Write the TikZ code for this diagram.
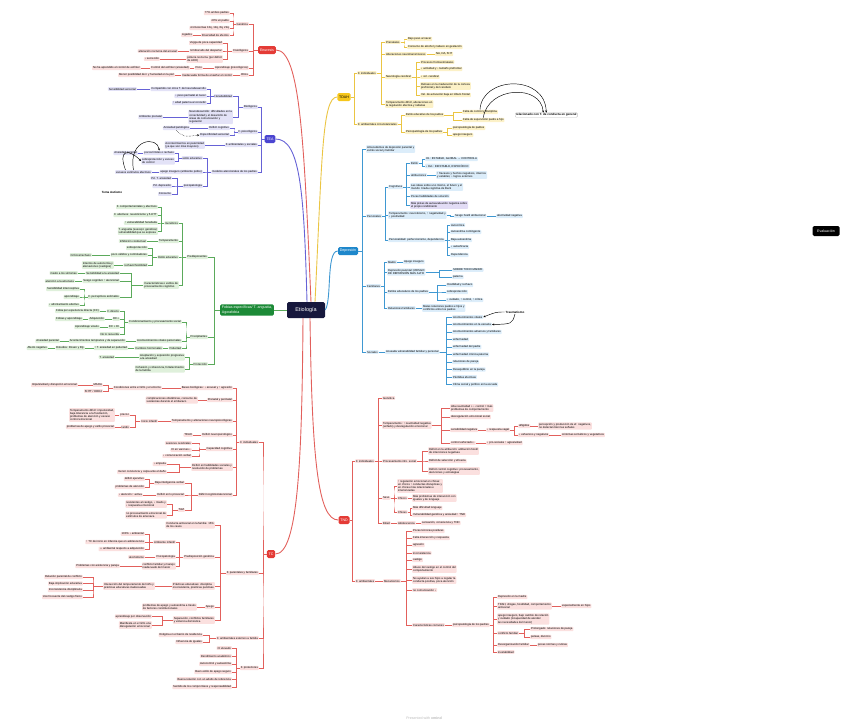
\documentclass[tikz,border=0pt]{standalone}
\usepackage{fontspec}
\setmainfont{Liberation Sans}
\usetikzlibrary{arrows.meta, calc}
\definecolor{etiobg}{HTML}{17183D}
\definecolor{redmain}{HTML}{E43B36}
\definecolor{redline}{HTML}{E2605C}
\definecolor{redleaf}{HTML}{FBE0DF}
\definecolor{purmain}{HTML}{4B45D1}
\definecolor{purline}{HTML}{6662D6}
\definecolor{purleaf}{HTML}{E3E2F7}
\definecolor{grnmain}{HTML}{1C8A37}
\definecolor{grnline}{HTML}{5BAA5B}
\definecolor{grnleaf}{HTML}{DFF0DB}
\definecolor{yelmain}{HTML}{F6C61B}
\definecolor{yelline}{HTML}{EBC543}
\definecolor{yelleaf}{HTML}{FCF1C7}
\definecolor{blumain}{HTML}{1E87CB}
\definecolor{bluline}{HTML}{3F98D2}
\definecolor{bluleaf}{HTML}{DCEDFA}
\definecolor{lilacleaf}{HTML}{E2DCF5}

\begin{document}
\begin{tikzpicture}[x=1pt, y=-1pt,
    leaf/.style={rounded corners=0.8pt, inner sep=0.9pt, align=left,
                 font=\fontsize{2.8}{3.3}\selectfont},
    topic/.style={rounded corners=1.5pt, inner sep=1.8pt, minimum height=8pt,
                  align=center, text=white, font=\fontsize{3.6}{4.2}\selectfont},
    rl/.style={leaf, fill=redleaf, anchor=east},
    rr/.style={leaf, fill=redleaf, anchor=west},
    pl/.style={leaf, fill=purleaf, anchor=east},
    gl/.style={leaf, fill=grnleaf, anchor=east},
    yr/.style={leaf, fill=yelleaf, anchor=west},
    br/.style={leaf, fill=bluleaf, anchor=west},
    note/.style={inner sep=0.8pt, font=\fontsize{3}{3.5}\selectfont\bfseries},
    elb/.style={to path={(\tikztostart) -| ($(\tikztostart)!0.5!(\tikztotarget)$) |- (\tikztotarget)}},
    redln/.style={draw=redline, line width=0.4pt},
    purln/.style={draw=purline, line width=0.4pt},
    grnln/.style={draw=grnline, line width=0.4pt},
    yelln/.style={draw=yelline, line width=0.4pt},
    bluln/.style={draw=bluline, line width=0.4pt},
    mainln/.style={line width=0.9pt},
    linkarr/.style={-{Stealth[length=2.2pt, width=2pt]}, line width=0.45pt, black}
]
\useasboundingbox (0,0) rectangle (848,726);

% centre and floating topic
\node[topic, fill=etiobg, font=\fontsize{5.5}{6}\selectfont,
      minimum width=38pt, minimum height=16pt] (eti) at (306,310) {Etiología};
\node[topic, fill=black, minimum width=27pt, minimum height=10pt] (eva) at (826,231) {Evaluación};

% ---------------- Enuresis ----------------
\node[topic, fill=redmain] (enu) at (267,50) {Enuresis};
\node[rl] (enG) at (249,24) {Genética};
\node[rl] (enG1) at (230,13) {77\% ambos padres};
\node[rl] (enG2) at (230,21) {40\% un padre};
\node[rl] (enG3) at (230,28) {cromosomas 13q, 12q, 8q, 22q};
\node[rl] (enG4) at (230,35) {Diversidad de efectos};
\node[rl] (enG4a) at (193,35) {Ligados};
\node[rl] (enF) at (249,51) {Fisiológicos};
\node[rl] (enF1) at (223,43) {Vejiga de poca capacidad};
\node[rl] (enF2) at (223,51) {Umbral alto del despertar};
\node[rl] (enF2a) at (178,51) {alteración nocturna del arousal};
\node[rl] (enF3) at (223,59) {poliuria nocturna (por déficit\\de ADH)};
\node[rl] (enF3a) at (160,59) {↓ secreción};
\node[rl] (enP) at (249,68) {Aprendizaje (psicológicos)};
\node[rl] (enP1) at (203,68) {Poco};
\node[rl] (enP1a) at (190,68) {Control del esfínter (ansiedad)};
\node[rl] (enP1b) at (141,68) {No ha aprendido el control de esfínter};
\node[rl] (enO) at (249,75) {Otros};
\node[rl] (enO1) at (233,75) {Inadecuada forma de enseñar el control};
\node[rl] (enO1a) at (175,75) {Menor posibilidad de ir y humedad en la piel};

\foreach \c in {enG,enF,enP,enO} \draw[redln] (enu.west) to[elb] (\c.east);
\foreach \c in {enG1,enG2,enG3,enG4} \draw[redln] (enG.west) to[elb] (\c.east);
\draw[redln] (enG4.west) -- (enG4a.east);
\foreach \c in {enF1,enF2,enF3} \draw[redln] (enF.west) to[elb] (\c.east);
\draw[redln] (enF2.west) -- (enF2a.east);
\draw[redln] (enF3.west) -- (enF3a.east);
\draw[redln] (enP.west) -- (enP1.east);
\draw[redln] (enP1.west) -- (enP1a.east);
\draw[redln] (enP1a.west) -- (enP1b.east);
\draw[redln] (enO.west) -- (enO1.east);
\draw[redln] (enO1.west) -- (enO1a.east);

% ---------------- TEA ----------------
\node[topic, fill=purmain] (tea) at (270,139) {TEA};
\node[pl] (teB) at (258,107) {Biológicos};
\node[pl] (teB1) at (233,96) {Heredabilidad};
\node[pl] (teB1a) at (207,89) {Compartido con otros T. del neurodesarrollo};
\node[pl] (teB1a1) at (137,89) {Sensibilidad sensorial};
\node[pl] (teB1b) at (207,96) {↓ peso perinatal al nacer};
\node[pl] (teB1c) at (207,103) {↑ edad paterna al concebir};
\node[pl] (teB2) at (233,117) {Neurodesarrollo: dificultades en la\\conectividad y el desarrollo de\\áreas de comunicación y\\regulación};
\node[pl] (teB2a) at (163,117) {Ambiente prenatal};
\node[pl] (teP) at (258,132) {F. psicológicos};
\node[pl] (teP1) at (230,128) {Déficit cognitivo};
\node[pl] (teP1a) at (190,128) {Ansiedad patológica};
\node[pl] (teP2) at (230,135) {Especificidad sensorial};
\node[pl] (teA) at (258,145) {F. ambientales y sociales};
\node[pl] (teA1) at (205,145) {Acontecimientos en paternidad\\(ya que son más mayores)};
\node[pl] (teM) at (258,172) {modelos atencionales de los padres};
\node[pl] (teM1) at (203,158) {estilo educativo};
\node[pl] (teM1a) at (175,153) {pocos límites o rechazo};
\node[pl] (teM1a1) at (138,153) {Ansiedad parental};
\node[pl] (teM1b) at (175,161) {sobreprotección y exceso\\de control};
\node[pl] (teM2) at (203,172) {apego inseguro (ambiente pobre)};
\node[pl] (teM2a) at (152,172) {escasos estímulos afectivos};
\node[pl] (teM3) at (203,186) {psicopatología};
\node[pl] (teM3a) at (172,178) {Pd. T. ansiedad};
\node[pl] (teM3b) at (172,186) {Pd. depresión};
\node[pl] (teM3c) at (172,194) {Consumo};
\node[note] (tema) at (112,192) {Tema Autismo};

\foreach \c in {teB,teP,teA,teM} \draw[purln] (tea.west) to[elb] (\c.east);
\foreach \c in {teB1,teB2} \draw[purln] (teB.west) to[elb] (\c.east);
\foreach \c in {teB1a,teB1b,teB1c} \draw[purln] (teB1.west) to[elb] (\c.east);
\draw[purln] (teB1a.west) -- (teB1a1.east);
\draw[purln] (teB2.west) -- (teB2a.east);
\foreach \c in {teP1,teP2} \draw[purln] (teP.west) to[elb] (\c.east);
\draw[purln] (teP1.west) -- (teP1a.east);
\draw[purln] (teA.west) -- (teA1.east);
\foreach \c in {teM1,teM2,teM3} \draw[purln] (teM.west) to[elb] (\c.east);
\foreach \c in {teM1a,teM1b} \draw[purln] (teM1.west) to[elb] (\c.east);
\draw[purln] (teM1a.west) -- (teM1a1.east);
\draw[purln] (teM2.west) -- (teM2a.east);
\foreach \c in {teM3a,teM3b,teM3c} \draw[purln] (teM3.west) to[elb] (\c.east);
\draw[linkarr] (teM2a.north) .. controls (128,138) and (158,136) .. (teM1a.north);
\draw[linkarr] ([xshift=-8pt]teM2a.north) .. controls (118,150) and (128,148) .. (teM1b.west);
\draw[linkarr, densely dotted] (teP1a.south) .. controls (184,137) .. (teP2.west);

% ---------------- Fobias / ansiedad ----------------
\node[topic, fill=grnmain, align=left] (fob) at (247,310) {Fobias específicas/ T. angustia,\\Agorafobia};
\node[gl] (foD) at (208,257) {Predisponentes};
\node[gl] (foD1) at (179,223) {Genéticos};
\node[gl] (foD1a) at (158,207) {F. comportamentales y afectivos};
\node[gl] (foD1b) at (158,215) {F. afectivos: neuroticismo y 5-HTT};
\node[gl] (foD1c) at (158,223) {↑ vulnerabilidad heredada};
\node[gl] (foD1d) at (158,231) {T. angustia (suscept. genética)\\vulnerabilidad que se expresa};
\node[gl] (foD2) at (179,241) {Temperamento};
\node[gl] (foD2a) at (147,241) {Inhibición conductual};
\node[gl] (foD3) at (179,257) {Estilo educativo};
\node[gl] (foD3a) at (148,248) {sobreprotección};
\node[gl] (foD3b) at (148,255) {poco cálidos y controladores};
\node[gl] (foD3b1) at (92,255) {Críticos/rechazo};
\node[gl] (foD3c) at (148,265) {rechazo/hostilidad};
\node[gl] (foD3c1) at (114,265) {Intentos de autonomía y\\alienaciones (castigos)};
\node[gl] (foD4) at (179,285) {Características o estilos de\\procesamiento cognitivo};
\node[gl] (foD4a) at (120,273) {Sensibilidad a la ansiedad};
\node[gl] (foD4a1) at (78,273) {miedo a los síntomas};
\node[gl] (foD4b) at (120,281) {Sesgo cognitivo ↑ atencional};
\node[gl] (foD4b1) at (75,281) {atención a la amenaza};
\node[gl] (foD4c) at (120,297) {F. perceptivos anómalos};
\node[gl] (foD4c1) at (80,289) {Sensibilidad interoceptiva};
\node[gl] (foD4c2) at (80,297) {aprendizaje};
\node[gl] (foD4c3) at (80,305) {↓ afrontamiento afectivo};

\node[gl] (foP) at (208,337) {Precipitantes};
\node[gl] (foP1) at (182,322) {Condicionamiento y procesamiento social};
\node[gl] (foP1a) at (120,311) {F. directo};
\node[gl] (foP1a1) at (100,311) {Fobia por experiencia directa (CC)};
\node[gl] (foP1b) at (120,319) {EC+};
\node[gl] (foP1b1) at (105,319) {Adquisición};
\node[gl] (foP1b2) at (83,319) {Fobias y aprendizaje};
\node[gl] (foP1c) at (120,327) {EC + EI};
\node[gl] (foP1c1) at (100,327) {Aprendizaje vicario};
\node[gl] (foP1d) at (120,334) {No lo recuerda};
\node[gl] (foP2) at (182,341) {Acontecimientos vitales personales};
\node[gl] (foP2a) at (126,341) {Acontecimientos tempranos y de separación};
\node[gl] (foP2a1) at (60,341) {Ansiedad parental};
\node[gl] (foP3) at (182,348) {Pubertad};
\node[gl] (foP3a) at (163,348) {Cambios hormonales};
\node[gl] (foP3a1) at (128,348) {↑ T. ansiedad en pubertad};
\node[gl] (foP3a2) at (85,348) {Estudios: Rosen y Ely};
\node[gl] (foP3a3) at (48,348) {Afecto negativo};
\node[gl] (foR) at (208,364) {Protección};
\node[gl] (foR1) at (185,357) {Aceptación y exposición progresiva\\a la ansiedad};
\node[gl] (foR1a) at (115,357) {T. ansiedad};
\node[gl] (foR2) at (185,369) {Cohesión y coherencia, fortalecimiento\\de la familia};

\foreach \c in {foD,foP,foR} \draw[grnln] (fob.west) to[elb] (\c.east);
\foreach \c in {foD1,foD2,foD3,foD4} \draw[grnln] (foD.west) to[elb] (\c.east);
\foreach \c in {foD1a,foD1b,foD1c,foD1d} \draw[grnln] (foD1.west) to[elb] (\c.east);
\draw[grnln] (foD2.west) -- (foD2a.east);
\foreach \c in {foD3a,foD3b,foD3c} \draw[grnln] (foD3.west) to[elb] (\c.east);
\draw[grnln] (foD3b.west) -- (foD3b1.east);
\draw[grnln] (foD3c.west) -- (foD3c1.east);
\foreach \c in {foD4a,foD4b,foD4c} \draw[grnln] (foD4.west) to[elb] (\c.east);
\draw[grnln] (foD4a.west) -- (foD4a1.east);
\draw[grnln] (foD4b.west) -- (foD4b1.east);
\foreach \c in {foD4c1,foD4c2,foD4c3} \draw[grnln] (foD4c.west) to[elb] (\c.east);
\foreach \c in {foP1,foP2,foP3} \draw[grnln] (foP.west) to[elb] (\c.east);
\foreach \c in {foP1a,foP1b,foP1c,foP1d} \draw[grnln] (foP1.west) to[elb] (\c.east);
\draw[grnln] (foP1a.west) -- (foP1a1.east);
\draw[grnln] (foP1b.west) -- (foP1b1.east);
\draw[grnln] (foP1b1.west) -- (foP1b2.east);
\draw[grnln] (foP1c.west) -- (foP1c1.east);
\draw[grnln] (foP2.west) -- (foP2a.east);
\draw[grnln] (foP2a.west) -- (foP2a1.east);
\draw[grnln] (foP3.west) -- (foP3a.east);
\draw[grnln] (foP3a.west) -- (foP3a1.east);
\draw[grnln] (foP3a1.west) -- (foP3a2.east);
\draw[grnln] (foP3a2.west) -- (foP3a3.east);
\foreach \c in {foR1,foR2} \draw[grnln] (foR.west) to[elb] (\c.east);
\draw[grnln] (foR1.west) -- (foR1a.east);

% ---------------- TDAH ----------------
\node[topic, fill=yelmain, text=black] (tdah) at (344,97) {TDAH};
\node[yr] (tdI) at (357,73) {F. individuales};
\node[yr] (tdI1) at (385,42) {Prenatales};
\node[yr] (tdI1a) at (407,39) {Bajo peso al nacer};
\node[yr] (tdI1b) at (407,47) {Consumo de alcohol y tabaco en gestación};
\node[yr] (tdI2) at (385,54) {Alteraciones neurotransmisores};
\node[yr] (tdI2a) at (435,54) {NA, DA, 5HT};
\node[yr] (tdI3) at (385,77) {Neurología cerebral};
\node[yr] (tdI3a) at (420,62) {Procesos frontoestriatales};
\node[yr] (tdI3b) at (420,69) {↓ actividad y ↓ tamaño prefrontal};
\node[yr] (tdI3c) at (420,77) {↓ vol. cerebral};
\node[yr] (tdI3d) at (420,86) {Retraso en la maduración de la corteza\\prefrontal y del cerebelo};
\node[yr] (tdI3e) at (420,95) {Vel. de activación baja en lóbulo frontal};
\node[yr] (tdI4) at (385,104) {Temperamento difícil, alteraciones en\\la regulación afectiva y rabietas};
\node[yr] (tdA) at (357,124) {F. ambientales circunstanciales};
\node[yr] (tdA1) at (405,115) {Estilo educativo de los padres};
\node[yr] (tdA1a) at (462,112) {Falta de control y disciplina};
\node[yr] (tdA1b) at (462,120) {Falta de supervisión padre a hijo};
\node[yr] (tdA2) at (405,132) {Psicopatología de los padres};
\node[yr] (tdA2a) at (452,128) {psicopatología de padres};
\node[yr] (tdA2b) at (452,135) {apego inseguro};
\node[note, anchor=west, draw=gray!50, fill=white, rounded corners=0.8pt] (tdRel) at (515,115) {relacionado con T. de conducta en general};

\foreach \c in {tdI,tdA} \draw[yelln] (tdah.east) to[elb] (\c.west);
\foreach \c in {tdI1,tdI2,tdI3,tdI4} \draw[yelln] (tdI.east) to[elb] (\c.west);
\foreach \c in {tdI1a,tdI1b} \draw[yelln] (tdI1.east) to[elb] (\c.west);
\draw[yelln] (tdI2.east) -- (tdI2a.west);
\foreach \c in {tdI3a,tdI3b,tdI3c,tdI3d,tdI3e} \draw[yelln] (tdI3.east) to[elb] (\c.west);
\foreach \c in {tdA1,tdA2} \draw[yelln] (tdA.east) to[elb] (\c.west);
\foreach \c in {tdA1a,tdA1b} \draw[yelln] (tdA1.east) to[elb] (\c.west);
\foreach \c in {tdA2a,tdA2b} \draw[yelln] (tdA2.east) to[elb] (\c.west);
\draw[linkarr] (tdA1a.north) .. controls (482,76) and (545,74) .. (tdRel.north);
\draw[linkarr] (tdA1b.north) .. controls (488,86) and (541,84) .. ([xshift=-3pt]tdRel.north);

% ---------------- Depresión ----------------
\node[topic, fill=blumain] (dep) at (348,251) {Depresión};
\node[br] (deA) at (366,149) {Antecedentes de depresión parental y\\estrés social y familiar};
\node[br] (deP) at (366,216) {Personales};
\node[br] (deP1) at (388,187) {Cognitivos};
\node[br] (deP1a) at (410,163) {Estilo};
\node[br] (deP1a1) at (425,159) {Int.: ESTABLE, GLOBAL → CONTROLA};
\node[br] (deP1a2) at (425,166) {↓ Ext.: INESTABLE, ESPECÍFICO};
\node[br] (deP1b) at (410,175) {atribuciones};
\node[br] (deP1b1) at (436,175) {↑ fracasos y hechos negativos, internos\\y estables; ↓ logros externos};
\node[br] (deP1c) at (410,187) {Las ideas sobre uno mismo, el futuro y el\\mundo: tríada cognitiva de Beck};
\node[br] (deP1d) at (410,196) {Pocas habilidades de solución};
\node[br, fill=lilacleaf] (deP1e) at (410,205) {Más pistas de autoevaluación negativa sobre\\el propio rendimiento};
\node[br] (deP2) at (388,215) {Temperamento: neuroticismo, ↑ negatividad y\\↓ positividad};
\node[br] (deP2a) at (454,216) {Sesgo hostil atribucional};
\node[br] (deP2a1) at (496,216) {afectividad negativa};
\node[br] (deP3) at (388,240) {Personalidad: perfeccionismo, dependencia};
\node[br] (deP3a) at (450,225) {Autocrítica};
\node[br] (deP3b) at (450,232) {Autoestima contingente};
\node[br] (deP3c) at (450,240) {Baja autoestima};
\node[br] (deP3d) at (450,247) {↓ autoeficacia};
\node[br] (deP3e) at (450,255) {Dependencia};
\node[br] (deF) at (366,286) {Familiares};
\node[br] (deF1) at (387,262) {Madre};
\node[br] (deF1a) at (403,262) {Apego inseguro};
\node[br] (deF2) at (387,272) {Depresión parental: RIESGO\\DE DEPRESIÓN MÁS ALTO};
\node[br] (deF2a) at (452,270) {SOBRE TODO MADRE};
\node[br] (deF2b) at (452,277) {paterna};
\node[br] (deF3) at (387,292) {Estilos educativos de los padres};
\node[br] (deF3a) at (446,285) {Hostilidad y rechazo};
\node[br] (deF3b) at (446,292) {sobreprotección};
\node[br] (deF3c) at (446,300) {↓ cuidado, ↑ control, ↑ crítica};
\node[br] (deF4) at (387,308) {Relaciones familiares};
\node[br] (deF4a) at (422,308) {Malas relaciones padres e hijos y\\conflictos entre los padres};
\node[br] (deS) at (366,352) {Sociales};
\node[br] (deS1) at (385,352) {Acusada vulnerabilidad familiar y personal};
\node[br] (deS1a) at (452,317) {Acontecimientos vitales};
\node[br] (deS1b) at (452,324.5) {Acontecimientos en la escuela};
\node[br] (deS1c) at (452,332) {Acontecimientos adversos y familiares};
\node[br] (deS1d) at (452,339.5) {enfermedad};
\node[br] (deS1e) at (452,347) {enfermedad del padre};
\node[br] (deS1f) at (452,354.5) {enfermedad crónica paterna};
\node[br] (deS1g) at (452,362) {relaciones de pareja};
\node[br] (deS1h) at (452,369.5) {Desequilibrio en la pareja};
\node[br] (deS1i) at (452,377) {Pérdidas afectivas};
\node[br] (deS1j) at (452,384.5) {Clima social y político en la escuela};
\node[note] (deTr) at (515,312) {Traumatismo};

\foreach \c in {deA,deP,deF,deS} \draw[bluln] (dep.east) to[elb] (\c.west);
\foreach \c in {deP1,deP2,deP3} \draw[bluln] (deP.east) to[elb] (\c.west);
\foreach \c in {deP1a,deP1b,deP1c,deP1d,deP1e} \draw[bluln] (deP1.east) to[elb] (\c.west);
\foreach \c in {deP1a1,deP1a2} \draw[bluln] (deP1a.east) to[elb] (\c.west);
\draw[bluln] (deP1b.east) -- (deP1b1.west);
\draw[bluln] (deP2.east) to[elb] (deP2a.west);
\draw[bluln] (deP2a.east) -- (deP2a1.west);
\foreach \c in {deP3a,deP3b,deP3c,deP3d,deP3e} \draw[bluln] (deP3.east) to[elb] (\c.west);
\foreach \c in {deF1,deF2,deF3,deF4} \draw[bluln] (deF.east) to[elb] (\c.west);
\draw[bluln] (deF1.east) -- (deF1a.west);
\foreach \c in {deF2a,deF2b} \draw[bluln] (deF2.east) to[elb] (\c.west);
\foreach \c in {deF3a,deF3b,deF3c} \draw[bluln] (deF3.east) to[elb] (\c.west);
\draw[bluln] (deF4.east) -- (deF4a.west);
\draw[bluln] (deS.east) -- (deS1.west);
\foreach \c in {deS1a,deS1b,deS1c,deS1d,deS1e,deS1f,deS1g,deS1h,deS1i,deS1j}
    \draw[bluln] (deS1.east) to[elb] (\c.west);
\draw[linkarr] (deTr.west) .. controls (496,312) .. (deS1a.east);
\draw[linkarr] (deTr.south) .. controls (512,324) .. (deS1b.east);

% ---------------- TC ----------------
\node[topic, fill=redmain] (tc) at (271,554) {TC};
\node[rl] (tcI) at (259,442) {F. individuales};
\node[rl] (tcI1) at (233,388) {Bases biológicas: ↓ arousal y ↑ agresión};
\node[rl] (tcI1a) at (162,388) {Condiciones entre el niño y el entorno};
\node[rl] (tcI1a1) at (103,385) {MAOA};
\node[rl] (tcI1a1a) at (78,385) {Impulsividad y disrupción emocional};
\node[rl] (tcI1a2) at (103,391) {5HTT / DRD4};
\node[rl] (tcI2) at (233,400) {Prenatal y perinatal};
\node[rl] (tcI2a) at (198,400) {complicaciones obstétricas, consumo de\\sustancias durante el embarazo};
\node[rl] (tcI3) at (233,421) {Temperamento y alteraciones neuropsicológicas};
\node[rl] (tcI3a) at (158,421) {Inicio infantil};
\node[rl] (tcI3a1) at (130,415) {precoz};
\node[rl] (tcI3a1a) at (115,415) {Temperamento difícil: impulsividad,\\baja tolerancia a la frustración,\\problemas de atención y escaso\\control emocional};
\node[rl] (tcI3a2) at (130,427) {tardío};
\node[rl] (tcI3a2a) at (115,427) {problemas de apego y estilo prosocial};
\node[rl] (tcI4) at (233,435) {Déficit neuropsicológico};
\node[rl] (tcI4a) at (193,435) {TDAH};
\node[rl] (tcI5) at (233,449) {Capacidad cognitiva};
\node[rl] (tcI5a) at (192,443) {Lesiones cerebrales};
\node[rl] (tcI5b) at (192,450) {CI en varones ↓};
\node[rl] (tcI5c) at (192,456) {↓ comunicación verbal};
\node[rl] (tcI6) at (233,467) {Déficit en habilidades sociales y\\resolución de problemas};
\node[rl] (tcI6a) at (167,464) {↓ empatía};
\node[rl] (tcI6b) at (167,472) {menor conciencia y culpa ante el daño};
\node[rl] (tcI7) at (233,495) {Déficit cognitivo/atencional};
\node[rl] (tcI7a) at (185,483) {Baja inteligencia verbal};
\node[rl] (tcI7a1) at (145,479) {déficit ejecutivo};
\node[rl] (tcI7a2) at (145,487) {problemas de atención};
\node[rl] (tcI7b) at (185,495) {Déficit en lo prosocial};
\node[rl] (tcI7b1) at (143,495) {↓ atención ↑ activa};
\node[rl] (tcI7c) at (185,510) {ToM};
\node[rl] (tcI7c1) at (167,504) {resistentes al castigo, ↓ miedo y\\↓ respuesta emocional};
\node[rl] (tcI7c2) at (167,515) {no procesamiento emocional de\\estímulos de amenaza};

\node[rl] (tcF) at (259,573) {F. parentales y familiares};
\node[rl] (tcF1) at (215,525) {Conducta antisocial en la familia: 15\%\\de los casos};
\node[rl] (tcF2) at (215,557) {Predisposición genética};
\node[rl] (tcF2a) at (176,542) {Ambiente infantil};
\node[rl] (tcF2a1) at (145,534) {100\% ↓ ambiental};
\node[rl] (tcF2a2) at (145,542) {↑ TC de inicio en infancia que en adolescencia};
\node[rl] (tcF2a3) at (145,549) {↓↓ ambiental respecto a adquisición};
\node[rl] (tcF2b) at (176,557) {Psicopatología};
\node[rl] (tcF2b1) at (145,557) {alcoholismo};
\node[rl] (tcF2c) at (176,566) {conflicto familiar y manejo\\inadecuado del menor};
\node[rl] (tcF2c1) at (120,566) {Problemas con asistencia y pareja};
\node[rl] (tcF3) at (215,586) {Prácticas educativas: disciplina\\inconsistente, prácticas punitivas};
\node[rl] (tcF3a) at (155,586) {Interacción del temperamento del niño y\\prácticas educativas inadecuadas};
\node[rl] (tcF3a1) at (83,577) {Relación parental de conflicto};
\node[rl] (tcF3a2) at (83,583.5) {Baja implicación educativa};
\node[rl] (tcF3a3) at (83,590) {Inconsistencia disciplinaria};
\node[rl] (tcF3a4) at (83,597) {Uso frecuente del castigo físico};
\node[rl] (tcF4) at (215,607) {Apego};
\node[rl] (tcF4a) at (197,607) {problemas de apego y autoestima a través\\de factores constitucionales};
\node[rl] (tcF5) at (215,620) {Separación, conflictos familiares\\y violencia doméstica};
\node[rl] (tcF5a) at (152,616.5) {aprendizaje por observación};
\node[rl] (tcF5b) at (152,625) {Manifiesta en el niño una\\disregulación emocional};

\node[rl] (tcE) at (259,638) {F. ambientales externos a familia};
\node[rl] (tcE1) at (203,635) {Estigma en el barrio de residencia};
\node[rl] (tcE2) at (203,642) {Influencia de iguales};

\node[rl] (tcP) at (259,668) {F. protectores};
\node[rl] (tcP1) at (232,648) {CI elevado};
\node[rl] (tcP2) at (232,656) {Rendimiento académico};
\node[rl] (tcP3) at (232,664) {Autocontrol y autoestima};
\node[rl] (tcP4) at (232,672) {Buen estilo de apego seguro};
\node[rl] (tcP5) at (232,679) {Buena relación con un adulto de referencia};
\node[rl] (tcP6) at (232,687) {Sentido de los compromisos y responsabilidad};

\foreach \c in {tcI,tcF,tcE,tcP} \draw[redln] (tc.west) to[elb] (\c.east);
\foreach \c in {tcI1,tcI2,tcI3,tcI4,tcI5,tcI6,tcI7} \draw[redln] (tcI.west) to[elb] (\c.east);
\draw[redln] (tcI1.west) -- (tcI1a.east);
\foreach \c in {tcI1a1,tcI1a2} \draw[redln] (tcI1a.west) to[elb] (\c.east);
\draw[redln] (tcI1a1.west) -- (tcI1a1a.east);
\draw[redln] (tcI2.west) -- (tcI2a.east);
\draw[redln] (tcI3.west) -- (tcI3a.east);
\foreach \c in {tcI3a1,tcI3a2} \draw[redln] (tcI3a.west) to[elb] (\c.east);
\draw[redln] (tcI3a1.west) -- (tcI3a1a.east);
\draw[redln] (tcI3a2.west) -- (tcI3a2a.east);
\draw[redln] (tcI4.west) -- (tcI4a.east);
\foreach \c in {tcI5a,tcI5b,tcI5c} \draw[redln] (tcI5.west) to[elb] (\c.east);
\foreach \c in {tcI6a,tcI6b} \draw[redln] (tcI6.west) to[elb] (\c.east);
\foreach \c in {tcI7a,tcI7b,tcI7c} \draw[redln] (tcI7.west) to[elb] (\c.east);
\foreach \c in {tcI7a1,tcI7a2} \draw[redln] (tcI7a.west) to[elb] (\c.east);
\draw[redln] (tcI7b.west) -- (tcI7b1.east);
\foreach \c in {tcI7c1,tcI7c2} \draw[redln] (tcI7c.west) to[elb] (\c.east);
\foreach \c in {tcF1,tcF2,tcF3,tcF4,tcF5} \draw[redln] (tcF.west) to[elb] (\c.east);
\foreach \c in {tcF2a,tcF2b,tcF2c} \draw[redln] (tcF2.west) to[elb] (\c.east);
\foreach \c in {tcF2a1,tcF2a2,tcF2a3} \draw[redln] (tcF2a.west) to[elb] (\c.east);
\draw[redln] (tcF2b.west) -- (tcF2b1.east);
\draw[redln] (tcF2c.west) -- (tcF2c1.east);
\draw[redln] (tcF3.west) -- (tcF3a.east);
\foreach \c in {tcF3a1,tcF3a2,tcF3a3,tcF3a4} \draw[redln] (tcF3a.west) to[elb] (\c.east);
\draw[redln] (tcF4.west) -- (tcF4a.east);
\foreach \c in {tcF5a,tcF5b} \draw[redln] (tcF5.west) to[elb] (\c.east);
\foreach \c in {tcE1,tcE2} \draw[redln] (tcE.west) to[elb] (\c.east);
\foreach \c in {tcP1,tcP2,tcP3,tcP4,tcP5,tcP6} \draw[redln] (tcP.west) to[elb] (\c.east);

% ---------------- TND ----------------
\node[topic, fill=redmain] (tnd) at (344,520) {TND};
\node[rr] (tnI) at (355,461) {F. individuales};
\node[rr] (tnI1) at (382,398) {Genética};
\node[rr] (tnI2) at (382,425) {Temperamento: ↑ reactividad negativa\\(enfado) y desregulación emocional};
\node[rr] (tnI2a) at (450,408) {Alta reactividad + ↓ control = más\\problemas de comportamiento};
\node[rr] (tnI2b) at (450,417) {desregulación emocional social};
\node[rr] (tnI2c) at (450,430) {sensibilidad negativa};
\node[rr] (tnI2c1) at (486,430) {↓ respuesta vagal};
\node[rr] (tnI2c1a) at (518,426) {afligidos};
\node[rr] (tnI2c1a1) at (538,426) {percepción y producción de ef. negativos,\\no detectan bien las señales};
\node[rr] (tnI2c1b) at (518,435) {↓ esfuerzos y negativos};
\node[rr] (tnI2c1b1) at (561,435) {síntomas somáticos y vegetativos};
\node[rr] (tnI2d) at (450,443) {control esforzado ↓};
\node[rr] (tnI2d1) at (486,443) {↓ pro-sociales ↑ agresividad};
\node[rr] (tnI3) at (382,461) {Procesamiento info. social};
\node[rr] (tnI3a) at (428,451) {Déficit en la atribución: atribución hostil\\de intenciones negativas};
\node[rr] (tnI3b) at (428,461) {Déficit de selección y eficacia};
\node[rr] (tnI3c) at (428,471) {Déficit control cognitivo: procesamiento,\\atenciones y estrategias};
\node[rr] (tnI4) at (382,498) {Sexo};
\node[rr] (tnI4a) at (397,486) {↑ regulación emocional en chicas:\\en chicos ↑ conductas disruptivas y\\en chicas más relacionales e\\interiorizadas};
\node[rr] (tnI4b) at (397,498) {Chicos};
\node[rr] (tnI4b1) at (412,498) {Más problemas de interacción con\\iguales y de lenguaje};
\node[rr] (tnI4c) at (397,512) {Chicas};
\node[rr] (tnI4c1) at (412,508) {Más dificultad lenguaje};
\node[rr] (tnI4c2) at (412,515) {Vulnerabilidad genética y ansiedad ↑ TND};
\node[rr] (tnI5) at (382,523) {Edad};
\node[rr] (tnI5a) at (397,523) {Adolescencia};
\node[rr] (tnI5a1) at (421,523) {sensación, consciencia y TND};

\node[rr] (tnA) at (355,581) {F. ambientales};
\node[rr] (tnA1) at (383,581) {Mecanismos};
\node[rr] (tnA1a) at (412,531) {Pocas técnicas positivas};
\node[rr] (tnA1b) at (412,538) {Falta interacción y respuesta};
\node[rr] (tnA1c) at (412,545) {agresión};
\node[rr] (tnA1d) at (412,553) {inconsistencia};
\node[rr] (tnA1e) at (412,560) {castigo};
\node[rr] (tnA1f) at (412,569) {Abuso del castigo en el control del\\comportamiento};
\node[rr] (tnA1g) at (412,580) {No ayudan a sus hijos a regular la\\conducta positiva, poca atención};
\node[rr] (tnA1h) at (412,590) {no comunicación ↓};
\node[rr] (tnA1i) at (412,625) {Características comunes};
\node[rr] (tnA1i1) at (452,625) {psicopatología de los padres};
\node[rr] (tnX1) at (497,597) {Depresión en la madre};
\node[rr] (tnX2) at (497,606) {TDAH, drogas, hostilidad, comportamiento\\antisocial};
\node[rr] (tnX2a) at (561,606) {especialmente en hijos};
\node[rr] (tnX3) at (497,619) {apego inseguro, bajo cambio de relación\\y cuidado (incapacidad de atender\\las necesidades del menor)};
\node[rr] (tnX4) at (497,633) {conflicto familiar};
\node[rr] (tnX4a) at (530,629) {Prolongado: relaciones de pareja};
\node[rr] (tnX4b) at (530,637) {peleas, divorcio};
\node[rr] (tnX5) at (497,645) {Desorganización familiar};
\node[rr] (tnX5a) at (537,645) {pocas normas y rutinas};
\node[rr] (tnX6) at (497,652) {inestabilidad};

\foreach \c in {tnI,tnA} \draw[redln] (tnd.east) to[elb] (\c.west);
\foreach \c in {tnI1,tnI2,tnI3,tnI4,tnI5} \draw[redln] (tnI.east) to[elb] (\c.west);
\foreach \c in {tnI2a,tnI2b,tnI2c,tnI2d} \draw[redln] (tnI2.east) to[elb] (\c.west);
\draw[redln] (tnI2c.east) -- (tnI2c1.west);
\foreach \c in {tnI2c1a,tnI2c1b} \draw[redln] (tnI2c1.east) to[elb] (\c.west);
\draw[redln] (tnI2c1a.east) -- (tnI2c1a1.west);
\draw[redln] (tnI2c1b.east) -- (tnI2c1b1.west);
\draw[redln] (tnI2d.east) -- (tnI2d1.west);
\foreach \c in {tnI3a,tnI3b,tnI3c} \draw[redln] (tnI3.east) to[elb] (\c.west);
\foreach \c in {tnI4a,tnI4b,tnI4c} \draw[redln] (tnI4.east) to[elb] (\c.west);
\draw[redln] (tnI4b.east) -- (tnI4b1.west);
\foreach \c in {tnI4c1,tnI4c2} \draw[redln] (tnI4c.east) to[elb] (\c.west);
\draw[redln] (tnI5.east) -- (tnI5a.west);
\draw[redln] (tnI5a.east) -- (tnI5a1.west);
\draw[redln] (tnA.east) -- (tnA1.west);
\foreach \c in {tnA1a,tnA1b,tnA1c,tnA1d,tnA1e,tnA1f,tnA1g,tnA1h,tnA1i}
    \draw[redln] (tnA1.east) to[elb] (\c.west);
\draw[redln] (tnA1i.east) -- (tnA1i1.west);
\foreach \c in {tnX1,tnX2,tnX3,tnX4,tnX5,tnX6} \draw[redln] (tnA1i1.east) to[elb] (\c.west);
\draw[redln] (tnX2.east) -- (tnX2a.west);
\foreach \c in {tnX4a,tnX4b} \draw[redln] (tnX4.east) to[elb] (\c.west);
\draw[redln] (tnX5.east) -- (tnX5a.west);

% ---------------- main branches ----------------
\draw[redln, mainln] ([xshift=5pt]eti.north) .. controls (304,140) and (300,50) .. (enu.east);
\draw[purln, mainln] ([xshift=1pt]eti.north) .. controls (304,190) and (300,139) .. (tea.east);
\draw[yelln, mainln] ([xshift=9pt]eti.north) .. controls (322,160) and (322,97) .. (tdah.west);
\draw[bluln, mainln] (eti.east) .. controls (332,300) and (326,251) .. (dep.west);
\draw[grnln, mainln] (eti.west) -- (fob.east);
\draw[redln, mainln] ([xshift=-3pt]eti.south) .. controls (302,460) and (298,554) .. (tc.east);
\draw[redln, mainln] ([xshift=4pt]eti.south) .. controls (312,460) and (318,520) .. (tnd.west);

\node[text=gray!55, font=\fontsize{3.6}{4}\selectfont] (wm) at (424,718) {Presented with \textbf{xmind}};
\end{tikzpicture}
\end{document}
